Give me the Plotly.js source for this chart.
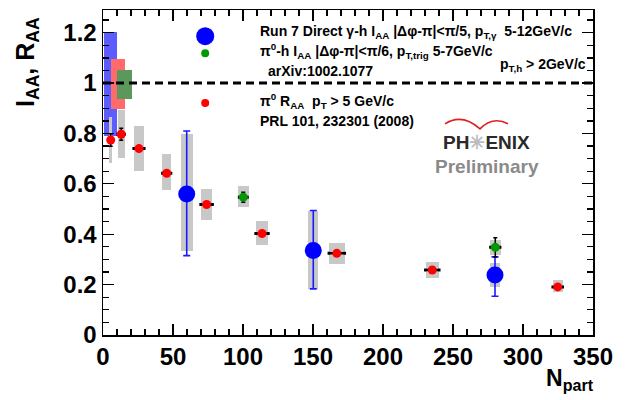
<!DOCTYPE html>
<html><head><meta charset="utf-8">
<script src="https://cdn.plot.ly/plotly-3.0.1.min.js"></script>
<style>html,body{margin:0;padding:0;background:#fff}#plot{width:628px;height:400px}</style>
</head><body><div id="plot"></div>
<script>
// pi0 R_AA (red)
const raaX = [5.5, 13, 25.7, 45.5, 74, 113.6, 167, 235.2, 324.8];
const raaY = [0.774, 0.797, 0.74, 0.642, 0.518, 0.403, 0.324, 0.258, 0.191];
const raaXErr = [1.5, 2.5, 3.8, 3.1, 4.3, 4.6, 5.7, 5.0, 3.6];
const raaStat = [0.025, 0.024, 0.01, 0.01, 0.01, 0.01, 0.01, 0.008, 0.008];
const raaSysLow = [0.682, 0.702, 0.651, 0.575, 0.457, 0.356, 0.283, 0.227, 0.17];
const raaSysHigh = [0.867, 0.893, 0.831, 0.72, 0.58, 0.453, 0.365, 0.29, 0.22];
const raaSysWidth = [2.4, 5.2, 7.6, 6.2, 8, 8.6, 11.2, 9.5, 7];
// direct gamma-h I_AA (blue)
const gamX = [59.8, 150.2, 280];
const gamY = [0.56, 0.335, 0.238];
const gamErrPlus = [0.25, 0.159, 0.072];
const gamErrMinus = [0.245, 0.152, 0.084];
const gamSysLow = [0.335, 0.183, 0.191];
const gamSysHigh = [0.798, 0.494, 0.286];
const gamSysWidth = [8.3, 7.1, 7.6];
// pi0-h I_AA (green)
const pihX = [100.2, 280.2];
const pihY = [0.547, 0.348];
const pihXErr = [3, 3.5];
const pihStat = [0.02, 0.038];
const pihSysLow = [0.51, 0.319];
const pihSysHigh = [0.59, 0.378];
const pihSysWidth = [7.6, 7.6];
// normalisation boxes
const normX = [5.15, 10.6, 15.35];
const normLow = [0.79, 0.897, 0.935];
const normHigh = [1.203, 1.094, 1.051];
const normWidth = [9.3, 10.2, 10.3];
const normColors = ['#5c5cff', '#ff6a6a', '#5c985c'];
// legend markers
const legendX = [73, 73, 73];
const legendY = [1.186, 1.118, 0.921];
const legendColors = ['#0000ff', '#009900', '#ff0000'];
const legendSizes = [18, 8, 8];
// ticks
const xTickVals = [0, 50, 100, 150, 200, 250, 300, 350];
const yTickVals = [0, 0.2, 0.4, 0.6, 0.8, 1, 1.2];
const yTickText = ['0', '0.2', '0.4', '0.6', '0.8', '1', '1.2'];

const diff = (hi, lo) => hi.map((h, i) => h - lo[i]);
const GRAY = '#c8c8c8';
const traces = [];
normX.forEach((x, i) => traces.push({type: 'bar', x: [x], base: [normLow[i]], y: [normHigh[i] - normLow[i]],
  width: [normWidth[i]], opacity: 1, marker: {color: normColors[i], opacity: 1, line: {width: 0}}, hoverinfo: 'skip', showlegend: false}));
[[raaX, raaSysLow, raaSysHigh, raaSysWidth], [gamX, gamSysLow, gamSysHigh, gamSysWidth], [pihX, pihSysLow, pihSysHigh, pihSysWidth]]
  .forEach(([x, lo, hi, w]) => traces.push({type: 'bar', x: x, base: lo, y: diff(hi, lo), width: w, opacity: 1,
    marker: {color: GRAY, opacity: 1, line: {width: 0}}, hoverinfo: 'skip', showlegend: false}));
traces.push({type: 'scatter', mode: 'markers', x: gamX, y: gamY, opacity: 1,
  error_y: {type: 'data', symmetric: false, array: gamErrPlus, arrayminus: gamErrMinus, color: '#1a1aff', thickness: 1.6, width: 3.5},
  marker: {color: '#0000ff', size: 17, opacity: 1}, showlegend: false});
traces.push({type: 'scatter', mode: 'markers', x: raaX, y: raaY, opacity: 1,
  error_x: {type: 'data', array: raaXErr, color: '#000', thickness: 2.5, width: 1.5},
  error_y: {type: 'data', array: raaStat, color: '#000', thickness: 1.5, width: 2},
  marker: {color: '#ff0000', size: 9, opacity: 1}, showlegend: false});
traces.push({type: 'scatter', mode: 'markers', x: pihX, y: pihY, opacity: 1,
  error_x: {type: 'data', array: pihXErr, color: '#000', thickness: 2.5, width: 1.5},
  error_y: {type: 'data', array: pihStat, color: '#000', thickness: 1.5, width: 2},
  marker: {color: '#009900', size: 9, opacity: 1}, showlegend: false});
legendX.forEach((x, i) => traces.push({type: 'scatter', mode: 'markers', x: [x], y: [legendY[i]], opacity: 1,
  marker: {color: legendColors[i], size: legendSizes[i], opacity: 1, line: {width: 0}}, showlegend: false, hoverinfo: 'skip'}));

// pixel -> paper helpers (plot area 103..593 x 10..335.5)
const L = 103, R = 35, T = 10, B = 64.5, W = 628 - L - R, H = 400 - T - B;
const px = p => (p - L) / W, py = p => (400 - B - p) / H;
const F = {family: 'Liberation Sans, Arial, sans-serif', color: '#000', weight: 'bold'};
const txt = (text, x, y, size, anchor, extra) => Object.assign({text: text, xref: 'paper', yref: 'paper', x: px(x), y: py(y),
  xanchor: anchor || 'left', yanchor: 'middle', showarrow: false, font: Object.assign({}, F, {size: size})}, extra || {});

const annotations = [
  txt('Run 7 Direct γ-h I<sub>AA</sub> |Δφ-π|&lt;π/5, p<sub>T,γ</sub>  5-12GeV/c', 258, 32, 14),
  txt('π<sup>0</sup>-h I<sub>AA</sub> |Δφ-π|&lt;π/6, p<sub>T,trig</sub> 5-7GeV/c', 258, 51, 14),
  txt('arXiv:1002.1077', 266, 71, 14),
  txt('p<sub>T,h</sub> &gt; 2GeV/c', 588, 65, 14, 'right'),
  txt('π<sup>0</sup> R<sub>AA</sub>  p<sub>T</sub> &gt; 5 GeV/c', 258, 101, 14),
  txt('PRL 101, 232301 (2008)', 258, 121, 14),
  txt('PH<span style="color:#bbbbbb">✳</span>ENIX', 486, 143, 19, 'center', {font: Object.assign({}, F, {size: 19, color: '#2a2a2a'})}),
  txt('Preliminary', 487, 167, 19, 'center', {font: Object.assign({}, F, {size: 19, color: '#8a8a8a'})}),
  txt('I<sub>AA</sub>, R<sub>AA</sub>', 27, 62, 25, 'center', {textangle: -90}),
  txt('N<sub>part</sub>', 570, 380, 23, 'center')
];

const arc = `M ${px(445)},${py(124)} Q ${px(462)},${py(113)} ${px(480)},${py(129)} Q ${px(493)},${py(116)} ${px(508)},${py(124)}`;
const shapes = [
  {type: 'rect', xref: 'paper', yref: 'paper', x0: px(432), x1: px(543), y0: py(128), y1: py(178), fillcolor: '#fff', line: {width: 0}, layer: 'below'},
  {type: 'path', xref: 'paper', yref: 'paper', path: arc, line: {color: '#e02020', width: 1.6}},
  {type: 'line', xref: 'x', yref: 'y', x0: 0, x1: 350, y0: 1, y1: 1, line: {color: '#000', width: 3, dash: '8px,5px'}, layer: 'above'}
];

const axisCommon = {showgrid: false, zeroline: false, showline: true, linecolor: '#000', linewidth: 1.5, mirror: 'allticks',
  ticks: 'inside', ticklen: 11, tickwidth: 1.3, tickcolor: '#000', tickfont: Object.assign({}, F, {size: 24})};
const layout = {
  width: 628, height: 400, margin: {l: L, r: R, t: T, b: B}, paper_bgcolor: '#fff', plot_bgcolor: '#fff',
  barmode: 'overlay', bargap: 0, showlegend: false,
  xaxis: Object.assign({}, axisCommon, {range: [0, 350], tickvals: xTickVals, ticktext: xTickVals.map(String),
    minor: {dtick: 10, ticks: 'inside', ticklen: 6, tickwidth: 1.3, tickcolor: '#000', showgrid: false}}),
  yaxis: Object.assign({}, axisCommon, {range: [0, 1.29], tickvals: yTickVals, ticktext: yTickText,
    minor: {dtick: 0.05, ticks: 'inside', ticklen: 6, tickwidth: 1.3, tickcolor: '#000', showgrid: false}}),
  annotations: annotations, shapes: shapes
};
Plotly.newPlot('plot', traces, layout, {staticPlot: true, displayModeBar: false});
</script></body></html>
